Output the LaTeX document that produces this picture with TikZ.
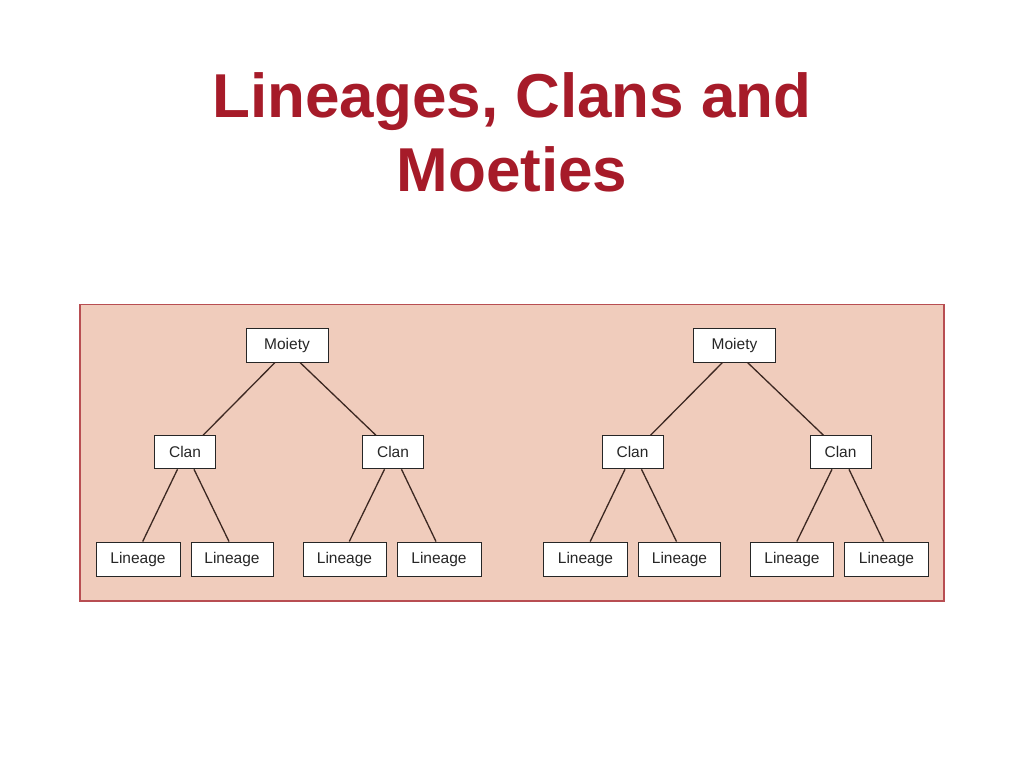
\documentclass[tikz,border=0pt]{standalone}
\usepackage{fontspec}
\setmainfont{Liberation Sans}
\definecolor{titlered}{RGB}{166,27,41}
\definecolor{panelfill}{RGB}{240,204,188}
\definecolor{panelline}{RGB}{184,78,82}
\definecolor{linkbrown}{RGB}{60,40,34}

\begin{document}
\begin{tikzpicture}[x=1pt, y=-1pt,
    box/.style={draw=black!85, fill=white, line width=1pt, minimum height=34pt, inner sep=0pt,
      font=\fontsize{15.5}{18}\selectfont, text=black!85},
    link/.style={draw=linkbrown, line width=1.3pt}
    ]
    \useasboundingbox (0,0) rectangle (1024,768);
    \node[anchor=base, text=titlered, font=\fontsize{62}{74}\selectfont\bfseries] (title1) at (512,117) {Lineages, Clans and};
    \node[anchor=base, text=titlered, font=\fontsize{62}{74}\selectfont\bfseries] (title2) at (512,191.5) {Moeties};
    \draw[panelline, fill=panelfill, line width=1.4pt] (80,304.5) rectangle (944,601);
    \foreach \s/\dx in {l/0pt, r/447.5pt} {
      \begin{scope}[xshift=\dx]
        \node[box, minimum width=82pt] (\s-moiety) at (287,345) {Moiety};
        \node[box, minimum width=61pt, minimum height=33pt] (\s-clana) at (185,452.3) {Clan};
        \node[box, minimum width=61pt, minimum height=33pt] (\s-clanb) at (393,452.3) {Clan};
        \node[box, minimum width=84pt] (\s-lina) at (138,559) {Lineage};
        \node[box, minimum width=82pt] (\s-linb) at (232,559) {Lineage};
        \node[box, minimum width=83pt] (\s-linc) at (344.5,559) {Lineage};
        \node[box, minimum width=84pt] (\s-lind) at (439,559) {Lineage};
        \draw[link] ([xshift=-12pt]\s-moiety.south) -- ([xshift=18pt]\s-clana.north);
        \draw[link] ([xshift=13pt]\s-moiety.south) -- ([xshift=-17pt]\s-clanb.north);
        \draw[link] ([xshift=-7.5pt]\s-clana.south) -- ([xshift=4.7pt]\s-lina.north);
        \draw[link] ([xshift=9pt]\s-clana.south) -- ([xshift=-3pt]\s-linb.north);
        \draw[link] ([xshift=-8.5pt]\s-clanb.south) -- ([xshift=4.8pt]\s-linc.north);
        \draw[link] ([xshift=8.5pt]\s-clanb.south) -- ([xshift=-3pt]\s-lind.north);
      \end{scope}
    }
  \end{tikzpicture}
\end{document}
